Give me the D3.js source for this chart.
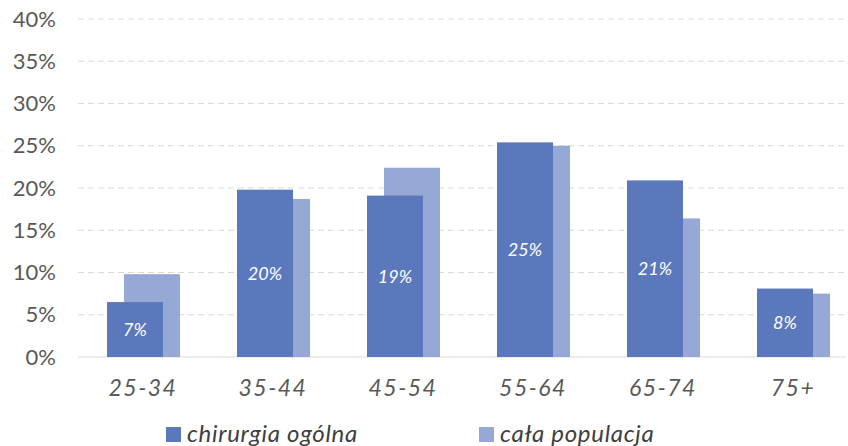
<!DOCTYPE html>
<html>
<head>
<meta charset="utf-8">
<script src="https://cdn.jsdelivr.net/npm/d3@7"></script>
<style>
    body { margin: 0; background: #fff; }
    text { font-family: Lato, "Open Sans", sans-serif; }
</style>
</head>
<body>
<svg id="chart" width="848" height="446"></svg>
<script>
(function() {
    'use strict';

    var categories = ['25-34', '35-44', '45-54', '55-64', '65-74', '75+'];
    var surgery = [6.5, 19.8, 19.1, 25.4, 20.9, 8.1];
    var population = [9.8, 18.7, 22.4, 25.0, 16.4, 7.5];
    var surgeryLabels = ['7%', '20%', '19%', '25%', '21%', '8%'];
    var yTicks = [0, 5, 10, 15, 20, 25, 30, 35, 40];
    var seriesNames = ['chirurgia ogólna', 'cała populacja'];

    var darkBlue = '#5B78BC';
    var lightBlue = '#95A8D6';

    var svg = d3.select('#chart');

    var x = d3.scaleBand().domain(categories).range([78, 858]);
    var y = d3.scaleLinear().domain([0, 40]).range([357, 19]);

    // gridlines (dashed) and baseline
    svg.append('g')
        .selectAll('line')
        .data(yTicks.filter(function(d) { return d > 0; }))
        .enter()
        .append('line')
        .attr('x1', 78)
        .attr('x2', 846)
        .attr('y1', function(d) { return y(d); })
        .attr('y2', function(d) { return y(d); })
        .attr('stroke', '#D9D9D9')
        .attr('stroke-width', 1)
        .attr('stroke-dasharray', '6,4');

    svg.append('line')
        .attr('x1', 78)
        .attr('x2', 846)
        .attr('y1', y(0))
        .attr('y2', y(0))
        .attr('stroke', '#D9D9D9')
        .attr('stroke-width', 1);

    // y axis labels
    var yAxis = d3.axisLeft(y)
        .tickValues(yTicks)
        .tickSize(0)
        .tickPadding(0)
        .tickFormat(function(d) { return d + '%'; });
    var yg = svg.append('g').attr('transform', 'translate(56,0)').call(yAxis);
    yg.select('.domain').remove();
    yg.selectAll('text')
        .attr('font-size', '22px')
        .attr('fill', '#595959')
        .style('font-family', 'Lato, sans-serif');

    var barW = 56;
    var offset = 17;

    // population bars (behind)
    svg.append('g')
        .selectAll('rect')
        .data(population)
        .enter()
        .append('rect')
        .attr('x', function(d, i) { return x(categories[i]) + x.bandwidth() / 2 - 36 + offset; })
        .attr('y', function(d) { return y(d); })
        .attr('width', barW)
        .attr('height', function(d) { return y(0) - y(d); })
        .attr('fill', lightBlue);

    // surgery bars (front)
    svg.append('g')
        .selectAll('rect')
        .data(surgery)
        .enter()
        .append('rect')
        .attr('x', function(d, i) { return x(categories[i]) + x.bandwidth() / 2 - 36; })
        .attr('y', function(d) { return y(d); })
        .attr('width', barW)
        .attr('height', function(d) { return y(0) - y(d); })
        .attr('fill', darkBlue);

    // value labels in surgery bars
    svg.append('g')
        .selectAll('text')
        .data(surgery)
        .enter()
        .append('text')
        .attr('x', function(d, i) { return x(categories[i]) + x.bandwidth() / 2 - 36 + barW / 2; })
        .attr('y', function(d) { return (y(d) + y(0)) / 2; })
        .attr('dy', '0.35em')
        .attr('text-anchor', 'middle')
        .attr('font-size', '18px')
        .attr('font-style', 'italic')
        .attr('fill', '#ffffff')
        .text(function(d, i) { return surgeryLabels[i]; });

    // x axis labels
    var xAxis = d3.axisBottom(x).tickSize(0).tickPadding(0);
    var xg = svg.append('g').attr('transform', 'translate(0,396)').call(xAxis);
    xg.select('.domain').remove();
    xg.selectAll('text')
        .attr('font-size', '23px')
        .attr('font-style', 'italic')
        .attr('fill', '#595959')
        .attr('dy', null)
        .attr('y', 0)
        .style('font-family', 'Lato, sans-serif')
        .style('letter-spacing', '1.5px');

    // legend
    var legendX = [166, 479];
    var legendColors = [darkBlue, lightBlue];
    var legend = svg.append('g')
        .selectAll('g')
        .data(seriesNames)
        .enter()
        .append('g')
        .attr('transform', function(d, i) { return 'translate(' + legendX[i] + ',427)'; });
    legend.append('rect')
        .attr('width', 15)
        .attr('height', 15)
        .attr('fill', function(d, i) { return legendColors[i]; });
    legend.append('text')
        .attr('x', 21)
        .attr('y', 15)
        .attr('font-size', '24px')
        .attr('font-style', 'italic')
        .attr('fill', '#404040')
        .style('letter-spacing', '0.7px')
        .text(function(d) { return d; });
})();
</script>
</body>
</html>
